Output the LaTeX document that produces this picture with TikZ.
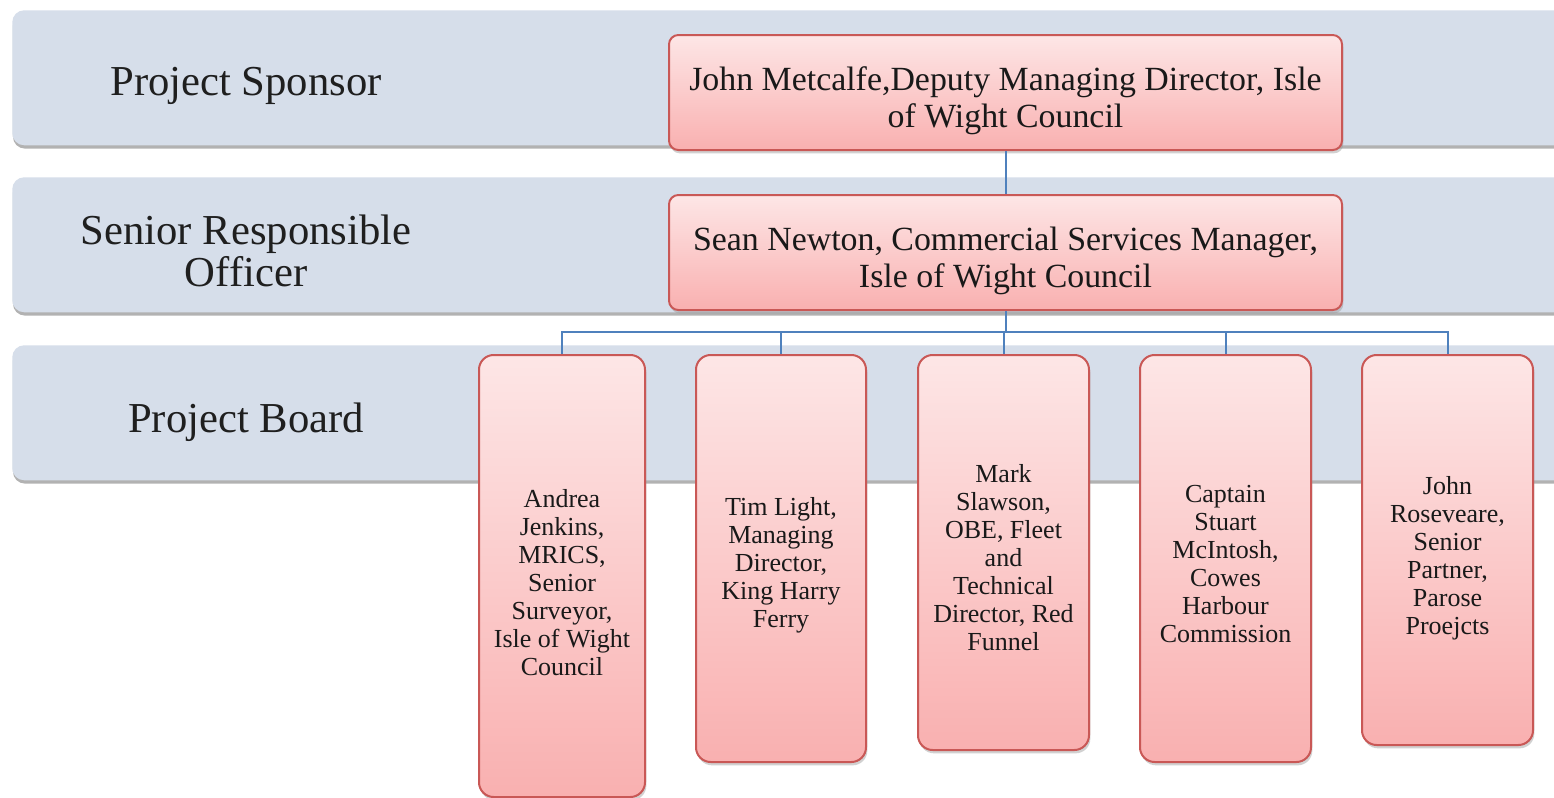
\documentclass[tikz,border=0pt]{standalone}
\usepackage{fontspec}
\setmainfont{Liberation Serif}
\usetikzlibrary{shadows}
\definecolor{bandfill}{RGB}{214,222,234}
\definecolor{boxtop}{RGB}{253,230,230}
\definecolor{boxbot}{RGB}{249,176,176}
\definecolor{boxline}{RGB}{201,88,86}
\definecolor{connc}{RGB}{79,129,189}
\begin{document}
\begin{tikzpicture}[x=0.75pt,y=-0.75pt,
  band/.style={rectangle, rounded corners=9pt, fill=bandfill, inner sep=0pt, anchor=north west,
    minimum width=1191pt, minimum height=101.25pt,
    drop shadow={shadow xshift=0.5pt, shadow yshift=-2.5pt, fill=black!50, opacity=0.6}},
  lbl/.style={font=\fontsize{32}{32}\selectfont, align=center, text=black!88, inner sep=0pt},
  pbox/.style={rectangle, draw=boxline, line width=1.5pt, top color=boxtop, bottom color=boxbot,
    inner sep=0pt,
    drop shadow={shadow xshift=1pt, shadow yshift=-2.5pt, fill=black!40, opacity=0.45}},
  topbox/.style={pbox, rounded corners=7pt, minimum width=504.75pt, minimum height=86.25pt},
  mbox/.style={pbox, rounded corners=11pt},
  toptext/.style={align=center, text=black!90, inner sep=0pt, font=\fontsize{25.4}{27.75}\selectfont},
  mtext/.style={align=center, text=black!90, inner sep=0pt, font=\fontsize{19.5}{21}\selectfont},
  conn/.style={draw=connc, line width=1.5pt}
]
\useasboundingbox (0,0) rectangle (1554,797);
\clip (0,0) rectangle (1554,797);
\fill[white] (0,0) rectangle (1554,797);

% bands
\node[band] (b1) at (12,10) {};
\node[band] (b2) at (12,177) {};
\node[band] (b3) at (12,345) {};

% band labels
\node[lbl] (l1) at (246,86) {Project Sponsor};
\node[lbl] (l2) at (246,251) {Senior Responsible\\Officer};
\node[lbl] (l3) at (246,422) {Project Board};

% top boxes
\node[topbox] (p1) at (1005.5,92.5) {};
\node[toptext] (t1) at ([yshift=-6.5pt]p1.center) {John Metcalfe,Deputy Managing Director, Isle\\of Wight Council};
\node[topbox] (p2) at (1005.5,252.5) {};
\node[toptext] (t2) at ([yshift=-6.5pt]p2.center) {Sean Newton, Commercial Services Manager,\\Isle of Wight Council};

% board members
\node[mbox, minimum width=124.5pt, minimum height=331.5pt] (m1) at (562,576) {};
\node[mtext] (u1) at ([yshift=-5pt]m1.center)
  {Andrea\\Jenkins,\\MRICS,\\Senior\\Surveyor,\\Isle of Wight\\Council};
\node[mbox, minimum width=127.5pt, minimum height=305.25pt] (m2) at (781,558.5) {};
\node[mtext] (u2) at ([yshift=-5pt]m2.center)
  {Tim Light,\\Managing\\Director,\\King Harry\\Ferry};
\node[mbox, minimum width=128.25pt, minimum height=296.25pt] (m3) at (1003.5,552.5) {};
\node[mtext] (u3) at ([yshift=-4pt]m3.center)
  {Mark\\Slawson,\\OBE, Fleet\\and\\Technical\\Director, Red\\Funnel};
\node[mbox, minimum width=128.25pt, minimum height=305.25pt] (m4) at (1225.5,558.5) {};
\node[mtext] (u4) at ([yshift=-4pt]m4.center)
  {Captain\\Stuart\\McIntosh,\\Cowes\\Harbour\\Commission};
\node[mbox, minimum width=128.25pt, minimum height=292.5pt] (m5) at (1447.5,550) {};
\node[mtext] (u5) at ([yshift=-6pt]m5.center)
  {John\\Roseveare,\\Senior\\Partner,\\Parose\\Proejcts};

% connectors
\draw[conn] (p1.south) -- (p2.north);
\draw[conn] (p2.south) -- ++(0,21) coordinate (hub);
\draw[conn] (hub) -| (m1.north);
\draw[conn] (hub) -| (m2.north);
\draw[conn] (hub) -| (m3.north);
\draw[conn] (hub) -| (m4.north);
\draw[conn] (hub) -| (m5.north);
\end{tikzpicture}
\end{document}
